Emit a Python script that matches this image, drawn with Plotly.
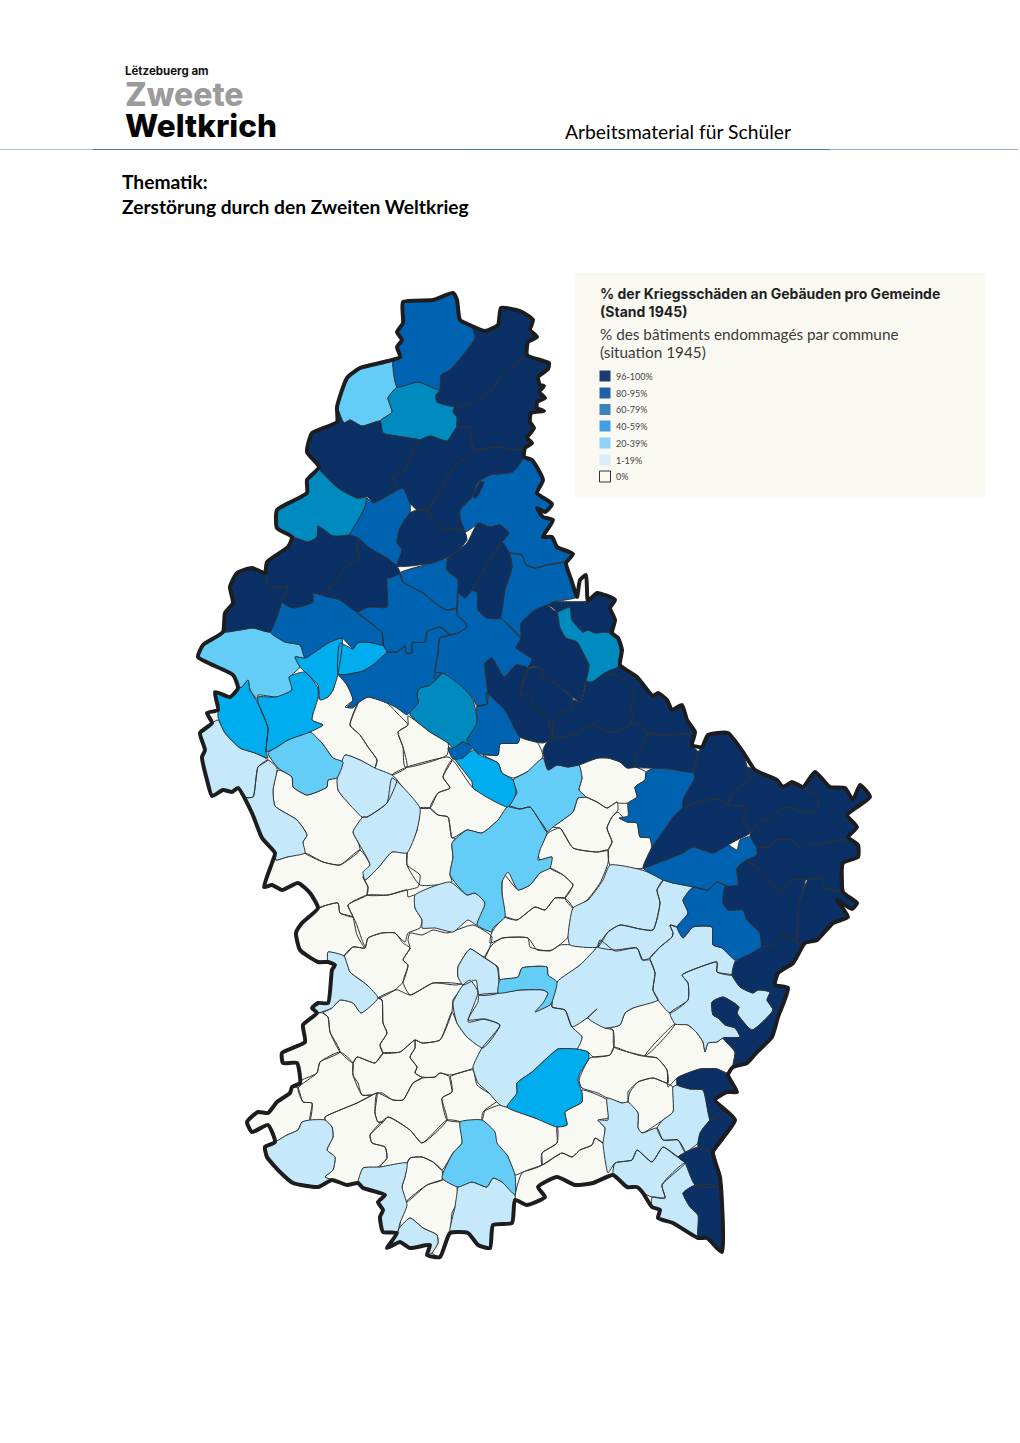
import plotly.graph_objects as go

# map geometry, in page pixels
# a 2-tuple is a vertex, a 4-tuple means "follow the national border from (x1,y1) to (x2,y2)"
BORDER = [
    (403,302),(433,300),(453,293),(457,300),(460,320),(472,326),(485,331),(498,325),(501,308),(520,311),(533,320),(530,330),
    (537,337),(528,342),(527,355),(540,360),(549,363),(548,369),(538,377),(540,385),(544,386),(539,392),(545,398),(537,402),
    (537,408),(544,411),(531,413),(530,422),(534,428),(527,438),(532,443),(525,448),(524,457),(532,460),(543,480),(537,493),
    (552,504),(545,512),(537,508),(543,517),(553,520),(543,537),(552,537),(557,547),(573,554),(566,563),(572,582),(577,597),
    (580,580),(586,575),(588,601),(597,593),(615,600),(610,608),(615,620),(612,633),(618,638),(622,650),(620,665),(637,677),
    (653,696),(658,693),(667,700),(672,710),(682,705),(687,720),(695,732),(692,745),(702,747),(708,735),(728,733),(743,752),
    (755,770),(777,780),(783,787),(792,782),(803,787),(815,772),(830,787),(845,788),(853,800),(860,785),(870,797),(847,815),
    (857,827),(848,837),(858,845),(858,857),(843,863),(843,892),(857,903),(852,909),(837,900),(848,917),(833,923),(817,940),
    (805,943),(793,963),(778,973),(775,985),(788,988),(778,1017),(772,1037),(757,1052),(747,1063),(733,1067),(728,1075),
    (737,1092),(727,1092),(715,1100),(735,1120),(713,1152),(720,1177),(722,1252),(707,1238),(698,1238),(673,1223),(658,1218),
    (660,1210),(652,1207),(643,1193),(637,1187),(627,1187),(613,1175),(593,1183),(575,1185),(557,1177),(538,1187),(545,1197),
    (527,1205),(515,1200),(512,1223),(493,1225),(490,1248),(478,1245),(468,1233),(450,1233),(440,1257),(427,1255),(430,1245),
    (410,1248),(400,1242),(387,1248),(397,1233),(383,1232),(380,1217),(383,1210),(378,1202),(385,1195),(363,1188),(358,1183),
    (347,1185),(332,1180),(318,1187),(293,1183),(280,1172),(267,1157),(265,1147),(275,1142),(268,1125),(252,1132),(247,1122),
    (258,1112),(268,1113),(277,1102),(290,1093),(292,1087),(300,1083),(297,1063),(283,1063),(282,1053),(305,1042),(303,1025),
    (317,1013),(312,1008),(318,1003),(328,1003),(332,970),(335,965),(328,962),(318,962),(300,950),(296,933),(302,923),(318,908),
    (310,893),(298,883),(282,890),(272,885),(264,887),(272,863),(275,853),(262,838),(252,813),(238,788),(232,792),(223,790),
    (212,796),(207,780),(202,757),(205,750),(200,733),(212,723),(207,713),(218,710),(215,692),(230,697),(238,688),(233,675),
    (198,657),(203,645),(223,632),(225,613),(233,603),(230,587),(237,573),(252,568),(265,573),(267,562),(288,547),(292,537),
    (277,528),(277,510),(307,493),(307,480),(319,467),(307,452),(312,433),(337,422),(337,407),(347,378),(360,368),(400,357),
    (397,347),(402,340),(397,332),(403,323),
]

DAMAGE_96_100 = [
    [(472,326,527,355),(510,368),(498,380),(492,390),(480,398),(465,406),(455,407),(437,402),(436,395),(440,390),(441,375),(450,370),(475,338)],
    [(527,355,525,448),(518,450),(498,447),(475,450),(470,440),(472,428),(457,427),(457,417),(453,412),(455,407),(465,406),(480,398),(492,390),(498,380),(510,368)],
    [(319,467,337,407),(344,423),(350,420),(362,426),(380,421),(383,433),(403,437),(420,440),(418,442),(410,458),(403,472),(393,475),(397,490),(392,493),(373,503),(368,497),(357,498),(338,488),(320,470)],
    [(418,442),(420,440),(430,436),(447,441),(457,427),(472,428),(470,440),(475,450),(468,457),(453,468),(438,495),(428,510),(417,510),(410,503),(403,488),(392,493),(397,490),(393,475),(403,472),(410,458)],
    [(475,450),(498,447),(518,450),(525,448,524,457),(513,472),(490,475),(477,483),(472,497),(460,510),(460,518),(465,532),(457,528),(445,530),(433,520),(428,510),(438,495),(453,468),(468,457)],
    [(473,497),(480,482),(484,482),(476,498)],
    [(410,513),(417,510),(428,510),(433,520),(445,530),(457,528),(465,532),(467,540),(458,550),(448,557),(432,563),(397,566),(402,550),(397,543),(400,528)],
    [(478,523),(490,527),(500,525),(509,533),(502,542),(490,560),(480,577),(472,590),(465,598),(458,592),(458,580),(447,570),(448,558),(467,543)],
    [(502,542),(510,555),(512,567),(505,590),(500,618),(487,618),(478,610),(477,592),(472,590),(480,577),(490,560)],
    [(553,602),(588,601,615,600),(610,608),(615,620),(612,633),(606,632),(595,633),(588,630),(583,632),(572,620),(570,607),(557,612),(548,605)],
    [(548,605),(535,610),(521,623),(521,638),(516,648),(522,652),(532,659),(528,668),(538,667),(545,672),(540,675),(555,683),(572,697),(581,702),(586,682),(589,665),(585,657),(577,642),(566,638),(560,628),(557,612)],
    [(581,702),(586,682),(592,682),(605,673),(617,675),(628,685),(635,695),(630,708),(633,718),(627,727),(617,732),(607,731),(593,724),(578,733),(562,737),(553,738),(553,723),(560,713),(572,708),(573,700)],
    [(620,665,695,732),(684,734),(662,735),(647,733),(635,722),(627,727),(633,718),(630,708),(635,695),(628,685),(617,675),(605,673),(618,667)],
    [(543,750),(550,738),(553,738),(562,737),(578,733),(593,724),(607,731),(617,732),(627,727),(635,722),(647,733),(643,745),(635,760),(635,767),(627,768),(620,762),(608,758),(598,758),(579,765),(568,767),(557,765),(548,770)],
    [(647,733),(662,735),(684,734),(695,732),(692,745),(698,752),(693,772),(670,769),(647,768),(635,767),(635,760),(643,745)],
    [(485,663),(492,658),(504,677),(516,665),(528,668),(520,695),(532,693),(533,707),(547,718),(553,737),(543,743),(520,737),(505,710),(488,693),(487,685)],
    [(528,668),(538,667),(545,672),(540,675),(555,683),(572,697),(573,700),(572,708),(560,713),(553,723),(553,738),(547,718),(533,707),(532,693),(520,695)],
    [(223,632,265,573),(270,587),(288,587),(282,602),(280,608),(270,632),(253,628),(240,630)],
    [(265,573),(267,562),(288,547),(292,537),(308,542),(317,537),(318,526),(333,536),(350,535),(358,538),(357,547),(360,557),(345,567),(337,580),(322,595),(313,593),(313,602),(293,608),(282,602),(288,587),(270,587)],
    [(358,538),(368,547),(387,558),(397,566),(400,573),(390,578),(387,578),(387,607),(368,607),(357,612),(340,600),(322,595),(337,580),(345,567),(360,557),(357,547)],
    [(683,808),(698,802),(718,799),(728,805),(747,807),(743,818),(750,833),(737,840),(728,845),(713,853),(693,847),(683,853),(660,862),(643,868),(652,847),(663,832),(675,815)],
    [(702,747,743,752),(747,767),(750,780),(733,792),(728,805),(718,799),(698,802),(683,808),(683,800),(695,777),(693,772),(698,752)],
    [(755,770,803,787),(818,798),(817,809),(807,813),(787,807),(770,818),(760,822),(750,833),(743,818),(747,807),(728,805),(733,792),(750,780),(747,767)],
    [(803,787,858,845),(855,841),(838,840),(818,845),(808,842),(800,848),(792,840),(775,840),(770,847),(757,847),(750,835),(760,822),(770,818),(787,807),(807,813),(817,809),(818,798)],
    [(747,860),(757,855),(757,847),(770,847),(775,840),(792,840),(800,848),(808,842),(818,845),(838,840),(855,841),(858,845,843,892),(823,887),(822,878),(808,880),(793,880),(780,892),(763,873)],
    [(725,887),(738,885),(737,868),(747,860),(763,873),(780,892),(793,880),(805,880),(799,903),(798,918),(797,942),(782,933),(772,945),(762,947),(760,933),(747,920),(743,910),(728,910),(723,903)],
    [(808,880),(822,878),(823,887),(843,892,805,943),(797,942),(798,918),(799,903)],
    [(805,943,733,1067),(735,1052),(723,1038),(740,1037),(735,1028),(725,1025),(718,1018),(713,1015),(712,1002),(723,997),(739,1007),(737,1013),(752,1030),(773,1010),(767,1000),(770,992),(758,990),(753,993),(740,987),(732,975),(735,962),(752,953),(762,947),(772,945),(782,933),(797,942)],
    [(677,1078),(700,1069),(717,1069),(728,1075,735,1120),(723,1113),(710,1120),(708,1112),(703,1090),(690,1089),(677,1085)],
    [(710,1120),(723,1113),(735,1120),(713,1152),(698,1147),(700,1133)],
    [(678,1157),(698,1147),(713,1152),(720,1177),(720,1187),(695,1185),(685,1163)],
    [(683,1193),(695,1185),(720,1187),(722,1252),(707,1238),(698,1238),(698,1215),(690,1207)],
]

DAMAGE_80_95 = [
    [(400,357,472,326),(475,338),(450,370),(441,375),(440,390),(418,382),(397,387),(393,362)],
    [(373,503),(392,493),(403,488),(410,502),(410,513),(400,528),(397,543),(402,550),(397,566),(387,558),(368,547),(358,538),(350,535),(360,517),(365,507),(367,498)],
    [(513,472),(524,457,573,554),(565,562),(547,565),(535,568),(526,565),(522,555),(508,553),(502,542),(508,533),(500,525),(490,527),(480,523),(465,532),(460,518),(460,510),(472,497),(477,483),(490,475)],
    [(508,553),(522,555),(526,565),(535,568),(547,565),(565,562),(566,563,577,597),(553,602),(548,605),(535,610),(521,623),(521,638),(503,620),(500,618),(505,590),(512,567),(510,555)],
    [(270,632),(280,608),(282,602),(293,608),(313,602),(313,593),(322,595),(340,600),(357,612),(367,620),(382,633),(383,645),(367,642),(357,643),(353,649),(342,638),(328,643),(315,652),(305,658),(300,645),(285,642)],
    [(387,578),(400,573),(403,582),(423,593),(435,603),(447,610),(457,608),(457,615),(465,622),(467,627),(458,633),(450,635),(440,627),(427,632),(425,642),(412,643),(412,653),(406,653),(405,646),(397,652),(388,652),(383,645),(382,633),(367,620),(357,613),(368,607),(387,607)],
    [(400,573),(432,563),(448,558),(447,570),(458,580),(458,592),(457,608),(447,610),(435,603),(423,593),(403,582)],
    [(457,600),(458,592),(465,598),(472,590),(477,592),(478,610),(487,618),(500,618),(503,620),(521,638),(516,648),(522,652),(532,659),(528,668),(516,665),(504,677),(492,658),(485,663),(485,670),(488,693),(487,704),(477,706),(473,698),(460,685),(442,673),(435,680),(435,672),(438,653),(440,638),(450,635),(458,633),(467,627),(465,622),(457,615)],
    [(343,675),(363,671),(373,665),(388,652),(397,652),(405,646),(406,653),(412,653),(412,643),(425,642),(427,632),(440,627),(450,635),(440,638),(438,653),(435,672),(442,673),(430,685),(420,688),(417,693),(418,703),(410,712),(407,715),(397,708),(387,703),(368,697),(358,703),(353,707),(347,707),(353,700),(347,685),(338,674)],
    [(477,706),(487,704),(486,693),(505,710),(520,737),(518,743),(500,744),(498,755),(477,753),(473,748),(463,758),(453,759),(448,748),(453,748),(463,742),(470,745),(467,740),(477,723)],
    [(646,772),(657,767),(670,769),(693,772),(695,777),(683,800),(683,810),(675,815),(663,832),(652,847),(650,838),(640,837),(637,823),(627,822),(619,818),(628,816),(628,803),(637,797),(635,787),(645,780)],
    [(643,868),(660,862),(683,853),(693,847),(713,853),(728,845),(737,850),(740,840),(753,836),(757,847),(757,855),(747,860),(737,868),(738,885),(728,887),(717,882),(708,890),(693,887),(673,883),(663,880)],
    [(693,887),(708,890),(717,882),(728,887),(723,903),(728,910),(743,910),(747,920),(760,933),(762,947),(747,958),(735,960),(722,948),(713,945),(712,927),(693,927),(683,938),(677,927),(688,913),(683,900)],
]

DAMAGE_60_79 = [
    [(397,387),(418,382),(440,390),(436,395),(437,402),(455,407),(453,412),(457,417),(457,427),(447,441),(430,436),(420,440),(403,437),(383,433),(380,421),(392,412),(388,398)],
    [(292,537,319,467),(320,470),(338,488),(357,498),(367,498),(365,507),(360,517),(350,535),(333,536),(318,526),(317,537),(308,542)],
    [(557,612),(570,607),(572,620),(583,632),(588,630),(595,633),(606,632),(617,638),(620,650),(618,667),(605,673),(592,682),(586,682),(589,665),(585,657),(577,642),(566,638),(560,628)],
    [(442,673),(460,683),(473,700),(477,723),(467,740),(470,745),(463,742),(453,748),(448,743),(430,732),(410,715),(410,712),(418,703),(417,693),(420,688),(430,685)],
]

DAMAGE_40_59 = [
    [(340,643),(353,649),(357,643),(367,642),(383,645),(387,652),(373,665),(363,671),(343,675),(338,674)],
    [(295,657),(305,658),(315,652),(328,643),(342,638),(338,674),(333,690),(328,697),(320,700),(318,685),(305,672),(300,667)],
    [(258,697),(276,697),(292,690),(289,677),(305,672),(318,688),(318,698),(312,720),(323,725),(310,732),(288,740),(277,747),(266,752),(268,728),(258,703)],
    [(218,710,238,688),(242,687),(248,680),(250,690),(258,703),(268,728),(266,752),(268,758),(255,753),(240,748),(225,733),(218,717)],
    [(455,759),(463,757),(475,749),(478,754),(498,763),(502,773),(513,780),(516,793),(508,807),(473,788),(472,782),(463,770)],
    [(507,1107),(517,1093),(517,1083),(532,1072),(547,1058),(558,1049),(577,1049),(588,1052),(589,1058),(580,1073),(578,1080),(582,1093),(582,1102),(565,1112),(567,1125),(557,1127),(535,1118)],
]

DAMAGE_20_39 = [
    [(337,407,400,357),(393,362),(397,387),(388,398),(392,412),(380,421),(362,426),(350,420),(344,423)],
    [(233,675,223,632),(240,630),(253,628),(270,632),(285,642),(300,645),(305,658),(295,657),(300,667),(290,677),(292,690),(277,697),(258,695),(258,700),(250,690),(248,680),(242,687),(238,688)],
    [(268,753),(277,747),(288,740),(310,732),(322,743),(333,758),(343,762),(337,778),(328,780),(327,787),(307,795),(293,787),(292,777),(278,768)],
    [(543,758),(548,770),(557,765),(568,767),(579,765),(582,778),(579,790),(586,797),(578,798),(573,812),(553,827),(547,832),(538,818),(530,807),(520,809),(508,806),(517,793),(513,780),(527,772)],
    [(508,806),(520,809),(530,807),(538,818),(547,832),(540,850),(538,860),(552,857),(550,868),(540,873),(530,885),(518,890),(508,872),(502,882),(502,893),(505,917),(493,928),(492,932),(477,925),(485,903),(475,893),(467,895),(450,875),(453,857),(452,843),(467,830),(482,833),(498,820)],
    [(498,993),(500,980),(518,977),(522,968),(547,967),(548,975),(557,982),(552,1002),(550,1005),(535,1012),(543,1003),(548,993),(543,990),(520,990)],
    [(460,1122),(482,1120),(495,1132),(497,1143),(507,1155),(515,1175),(515,1195),(502,1182),(493,1178),(487,1187),(472,1182),(458,1187),(442,1178),(453,1153),(462,1143)],
]

DAMAGE_1_19 = [
    [(238,788,212,723),(218,720),(225,733),(240,748),(255,753),(268,760),(258,767),(253,797),(243,797)],
    [(275,853,238,788),(243,797),(253,797),(258,767),(268,760),(277,768),(273,790),(275,806),(297,820),(307,835),(303,842),(305,853),(287,857),(276,860)],
    [(337,780),(345,755),(360,760),(375,768),(392,775),(397,780),(387,803),(367,817),(362,817),(343,797),(338,790)],
    [(353,832),(363,817),(367,817),(387,803),(392,778),(420,808),(417,830),(407,853),(392,852),(378,868),(365,880),(363,872),(370,865),(358,842)],
    [(415,895),(450,882),(467,895),(475,893),(485,903),(477,925),(468,920),(453,932),(435,928),(422,928),(422,920),(415,908)],
    [(610,865),(642,870),(663,880),(657,890),(660,903),(653,930),(640,929),(620,925),(608,932),(598,947),(570,945),(568,937),(573,908),(588,900),(603,880)],
    [(663,880),(673,883),(693,887),(683,900),(688,913),(677,927),(670,925),(673,933),(672,937),(660,947),(650,958),(643,960),(637,948),(615,950),(598,947),(608,932),(620,925),(640,929),(653,930),(660,903),(657,890)],
    [(650,958),(660,947),(672,937),(673,933),(670,925),(677,927),(683,938),(693,927),(712,927),(713,945),(722,948),(735,960),(732,975),(717,972),(717,962),(700,967),(682,975),(688,983),(688,1000),(670,1013),(658,1000),(653,990),(655,973)],
    [(682,975),(700,967),(717,962),(717,972),(732,975),(740,987),(753,993),(758,990),(770,992),(767,1000),(773,1010),(752,1030),(737,1013),(739,1007),(723,997),(712,1002),(713,1015),(718,1018),(725,1025),(735,1028),(740,1037),(723,1038),(717,1042),(708,1043),(705,1052),(703,1042),(697,1033),(688,1025),(675,1024),(670,1013),(688,1000),(688,983)],
    [(600,940),(615,951),(637,948),(642,960),(650,960),(655,973),(653,990),(658,1000),(633,1008),(625,1013),(620,1025),(605,1028),(588,1018),(597,1009),(587,1018),(572,1027),(565,1010),(552,1007),(557,982),(580,965),(597,947)],
    [(479,995),(498,993),(520,990),(543,990),(548,993),(545,1002),(552,1002),(552,1007),(565,1010),(572,1027),(582,1037),(577,1049),(558,1049),(547,1058),(532,1072),(517,1083),(517,1093),(507,1107),(500,1105),(488,1092),(478,1083),(473,1067),(482,1048),(500,1025),(483,1019),(468,1020),(478,1002)],
    [(458,967),(470,949),(483,957),(497,967),(498,993),(479,995),(476,980),(463,985),(458,977)],
    [(470,980),(478,992),(468,1022),(485,1019),(500,1025),(483,1048),(467,1037),(457,1023),(453,1003),(463,985)],
    [(317,1013,328,962),(328,952),(344,956),(350,972),(367,985),(378,998),(361,1013),(353,1003),(340,1000),(332,1008)],
    [(332,1180,275,1142),(287,1135),(298,1130),(302,1122),(310,1120),(325,1120),(332,1127),(333,1137),(327,1150),(335,1157),(333,1170),(325,1177)],
    [(458,1187),(472,1182),(487,1187),(493,1178),(502,1182),(515,1195),(515,1200,450,1233),(455,1207),(457,1193)],
    [(397,1233,358,1183),(363,1168),(380,1167),(407,1163),(405,1177),(402,1187),(407,1205),(400,1223)],
    [(400,1227),(410,1218),(423,1228),(437,1235),(438,1243),(432,1253),(427,1255),(430,1245),(410,1248),(400,1242),(387,1248),(397,1233)],
    [(608,1120),(607,1098),(622,1103),(628,1102),(638,1113),(638,1128),(642,1133),(657,1128),(663,1140),(678,1140),(685,1152),(678,1157),(663,1147),(652,1162),(637,1150),(632,1160),(615,1163),(608,1173),(603,1143),(605,1128),(598,1120)],
    [(615,1163),(632,1160),(637,1150),(652,1162),(663,1147),(678,1157),(685,1163),(662,1185),(665,1198),(652,1197),(643,1193),(637,1187),(627,1187),(613,1175)],
    [(662,1185),(685,1163),(695,1185),(683,1193),(690,1207),(698,1215),(698,1238,652,1207),(652,1197),(665,1198)],
    [(673,1087),(677,1085),(690,1089),(703,1090),(708,1112),(710,1120),(702,1130),(698,1143),(685,1152),(678,1140),(663,1140),(657,1128),(663,1120),(673,1112)],
]

DAMAGE_0 = [
    [(338,674),(347,685),(353,700),(345,707),(353,708),(358,703),(350,725),(360,735),(368,747),(377,760),(375,768),(360,760),(345,755),(343,762),(333,758),(322,743),(310,732),(323,725),(312,720),(318,698),(328,697),(333,690)],
    [(358,703),(368,697),(387,703),(397,713),(408,725),(398,732),(403,747),(407,767),(392,775),(377,772),(375,768),(377,760),(368,747),(360,735),(350,725)],
    [(408,716),(430,732),(448,743),(447,755),(405,767),(403,747),(398,732),(408,725)],
    [(407,767),(448,757),(452,760),(443,777),(450,788),(438,793),(430,808),(420,808),(397,780),(392,775)],
    [(483,755),(498,755),(500,744),(518,743),(520,737),(537,742),(543,755),(540,763),(527,772),(513,778),(502,773),(498,763)],
    [(579,765),(598,758),(608,758),(620,762),(627,768),(635,767),(646,772),(645,780),(635,787),(637,797),(628,803),(618,803),(617,802),(607,808),(597,802),(586,797),(579,790),(582,778)],
    [(503,873),(518,890),(530,885),(540,873),(550,868),(563,875),(573,885),(565,898),(555,898),(545,910),(535,907),(517,920),(505,917),(502,893),(502,882)],
    [(550,868),(552,857),(540,860),(538,853),(548,833),(560,828),(573,848),(597,852),(608,850),(608,863),(600,883),(587,900),(573,908),(565,898),(573,885),(563,875)],
    [(553,827),(573,812),(578,798),(586,797),(597,802),(607,808),(617,802),(618,810),(612,817),(607,828),(612,842),(608,850),(597,852),(573,848),(560,828)],
    [(618,812),(627,822),(637,823),(640,837),(650,838),(652,847),(643,868),(610,865),(608,850),(612,842),(607,828),(612,817)],
    [(492,932),(505,917),(517,920),(535,907),(545,910),(555,898),(565,898),(573,908),(568,937),(552,950),(537,950),(528,938),(503,938),(490,943)],
    [(485,957),(492,945),(502,938),(528,938),(530,947),(550,951),(560,945),(582,945),(597,947),(580,965),(557,982),(548,975),(547,967),(522,968),(518,977),(500,980),(498,967)],
    [(420,808),(430,808),(438,815),(448,817),(452,838),(455,838),(452,845),(453,857),(450,875),(452,882),(420,885),(407,865),(407,853),(417,830)],
    [(430,808),(438,793),(450,788),(443,777),(452,760),(473,788),(508,807),(498,820),(482,833),(467,830),(452,838),(448,817),(438,815)],
    [(278,770),(292,777),(293,787),(307,795),(327,787),(328,780),(337,778),(338,790),(343,797),(362,817),(353,832),(358,842),(360,850),(340,865),(323,862),(305,853),(303,842),(307,835),(297,820),(275,806),(273,790)],
    [(318,908,275,853),(276,860),(287,857),(305,853),(323,862),(340,865),(360,850),(370,865),(363,877),(368,887),(367,895),(348,905),(353,917),(340,913),(338,903),(327,905)],
    [(365,880),(378,868),(392,852),(407,853),(407,865),(420,875),(418,887),(407,890),(388,895),(367,895),(368,887),(363,877)],
    [(348,905),(367,895),(388,895),(407,890),(408,897),(415,895),(415,908),(422,920),(420,928),(408,933),(405,942),(400,938),(395,933),(382,933),(368,938),(365,948),(357,935),(353,917)],
    [(328,962,318,908),(327,905),(338,903),(340,913),(353,917),(362,940),(365,948),(353,947),(344,956),(328,952)],
    [(365,948),(368,938),(382,933),(395,933),(403,943),(410,948),(403,960),(408,965),(403,982),(395,990),(378,998),(367,985),(350,972),(344,956),(353,947)],
    [(398,990),(410,995),(433,983),(453,983),(463,985),(453,1000),(452,1012),(440,1040),(422,1043),(415,1040),(400,1052),(383,1053),(380,1045),(387,1033),(383,1023),(382,1000),(378,998),(395,990)],
    [(408,940),(410,948),(403,960),(408,965),(403,982),(410,995),(433,983),(457,985),(470,980),(458,977),(458,967),(470,949),(485,957),(492,937),(473,925),(447,933),(433,930),(422,935),(410,933)],
    [(572,1027),(588,1018),(605,1028),(613,1030),(614,1047),(610,1055),(593,1057),(588,1052),(577,1049),(582,1037)],
    [(610,1028),(620,1025),(625,1013),(633,1008),(658,1000),(670,1013),(675,1024),(645,1056),(628,1052),(614,1047),(613,1030)],
    [(645,1056),(675,1024),(688,1025),(697,1033),(703,1042),(705,1052),(708,1043),(717,1042),(723,1038),(735,1052),(733,1067),(728,1073),(717,1069),(700,1069),(677,1078),(668,1087),(667,1070),(657,1058)],
    [(579,1080),(590,1058),(610,1055),(614,1047),(628,1052),(645,1056),(657,1058),(667,1070),(668,1083),(653,1078),(638,1082),(628,1092),(628,1102),(622,1103),(607,1098),(598,1093),(582,1088)],
    [(630,1092),(638,1082),(653,1078),(668,1084),(673,1087),(673,1112),(663,1120),(642,1133),(638,1128),(638,1113),(628,1102)],
    [(582,1090),(607,1100),(608,1118),(598,1120),(605,1128),(603,1143),(595,1138),(592,1145),(580,1150),(572,1157),(562,1153),(542,1165),(542,1153),(557,1143),(557,1127),(567,1125),(565,1112),(582,1102)],
    [(483,1112),(500,1105),(507,1107),(535,1118),(557,1125),(557,1143),(542,1153),(542,1165),(523,1172),(515,1175),(507,1155),(493,1143),(492,1132),(482,1122)],
    [(613,1175,515,1200),(515,1195),(522,1173),(542,1165),(562,1153),(572,1157),(580,1150),(592,1145),(595,1138),(603,1143),(612,1157)],
    [(300,1083,317,1013),(323,1013),(328,1017),(330,1032),(340,1052),(320,1062),(317,1073),(302,1080)],
    [(323,1013),(332,1008),(340,1000),(353,1003),(361,1013),(378,998),(382,1000),(383,1023),(387,1033),(380,1045),(383,1053),(375,1063),(357,1057),(353,1063),(340,1052),(330,1032),(328,1017)],
    [(298,1088),(317,1073),(320,1062),(340,1052),(353,1063),(353,1075),(362,1095),(372,1095),(357,1103),(325,1117),(325,1120),(310,1120),(312,1103),(303,1102)],
    [(275,1142,292,1087),(298,1088),(303,1102),(312,1103),(310,1120),(302,1122),(298,1130),(287,1135)],
    [(325,1117),(357,1103),(372,1095),(377,1093),(375,1113),(378,1122),(383,1122),(370,1135),(372,1143),(385,1147),(387,1158),(378,1167),(363,1168),(358,1183,332,1180),(325,1177),(333,1170),(335,1157),(327,1150),(333,1137),(332,1127),(325,1120)],
    [(353,1063),(357,1057),(375,1063),(383,1053),(400,1052),(415,1040),(415,1048),(410,1057),(417,1067),(415,1073),(422,1078),(413,1083),(403,1100),(393,1100),(382,1093),(377,1093),(372,1095),(362,1095),(358,1083),(353,1075)],
    [(415,1040),(422,1043),(440,1040),(452,1012),(457,1023),(467,1037),(482,1048),(473,1068),(450,1075),(440,1073),(435,1077),(422,1077),(415,1073),(417,1067),(410,1057),(415,1048)],
    [(377,1093),(393,1100),(403,1100),(413,1083),(422,1078),(435,1077),(440,1073),(450,1077),(452,1092),(442,1098),(447,1120),(422,1143),(410,1130),(388,1117),(383,1122),(378,1122),(375,1113)],
    [(388,1117),(410,1130),(422,1143),(447,1120),(460,1122),(462,1143),(453,1153),(442,1170),(433,1162),(422,1157),(410,1158),(407,1163),(380,1167),(387,1158),(385,1147),(372,1143),(370,1135)],
    [(450,1077),(473,1070),(477,1085),(498,1100),(485,1110),(482,1120),(460,1122),(447,1120),(442,1098),(452,1092)],
    [(407,1163),(410,1158),(422,1157),(433,1162),(442,1170),(442,1180),(427,1185),(405,1203),(402,1187),(405,1177)],
    [(405,1203),(427,1185),(442,1180),(457,1180),(457,1187),(458,1200),(452,1213),(450,1233),(440,1257),(432,1253),(438,1243),(437,1235),(423,1228),(410,1218),(400,1227)],
]

LEGEND_LABELS = ["96-100%", "80-95%", "60-79%", "40-59%", "20-39%", "1-19%", "0%"]
LEGEND_COLORS = ["#1E3A70", "#2260A8", "#3A84BA", "#42A0E2", "#92D1F5", "#D8EDFB", "#F9F9F2"]
LEGEND_Y = [376, 393, 409.5, 426, 443, 460, 476.5]

CLASS_COLORS = ["#F8F9F3", "#C5E9FB", "#63CDF7", "#00ADEF", "#008BC0", "#0063B1", "#0A3066"]
CLASSES = [DAMAGE_0, DAMAGE_1_19, DAMAGE_20_39, DAMAGE_40_59, DAMAGE_60_79, DAMAGE_80_95, DAMAGE_96_100]

RULE_COLORS = ["#A9C0E0", "#5B7093", "#4A74B0", "#8FB0DE"]
RULE_X = [0, 93, 465, 830, 1018]


def nearest(x, y):
    return min(range(len(BORDER)), key=lambda i: (BORDER[i][0] - x) ** 2 + (BORDER[i][1] - y) ** 2)


def expand(poly):
    pts = []
    for p in poly:
        if len(p) == 2:
            pts.append(p)
        else:
            i, j = nearest(p[0], p[1]), nearest(p[2], p[3])
            while True:
                pts.append(BORDER[i])
                if i == j:
                    break
                i = (i + 1) % len(BORDER)
    return pts


fig = go.Figure()

# country base
fig.add_trace(go.Scatter(x=[p[0] for p in BORDER], y=[p[1] for p in BORDER], mode="lines", fill="toself",
                         fillcolor="#F8F9F3", line=dict(width=0), hoverinfo="skip", showlegend=False))

for polys, color in zip(CLASSES, CLASS_COLORS):
    xs, ys = [], []
    for poly in polys:
        pts = expand(poly)
        pts.append(pts[0])
        xs += [p[0] for p in pts] + [None]
        ys += [p[1] for p in pts] + [None]
    fig.add_trace(go.Scatter(x=xs, y=ys, mode="lines", fill="toself", fillcolor=color,
                             line=dict(color="#2E3236", width=1, shape="spline", smoothing=0.5),
                             hoverinfo="skip", showlegend=False))

# national border on top
closed = BORDER + [BORDER[0]]
fig.add_trace(go.Scatter(x=[p[0] for p in closed], y=[p[1] for p in closed], mode="lines",
                         line=dict(color="#1D1D1F", width=4, shape="spline", smoothing=0.5),
                         hoverinfo="skip", showlegend=False))

# legend swatches
fig.add_trace(go.Scatter(x=[605] * len(LEGEND_Y), y=LEGEND_Y, mode="markers",
                         marker=dict(symbol="square", size=11, color=LEGEND_COLORS,
                                     line=dict(color=["rgba(0,0,0,0)"] * 6 + ["#333333"], width=1)),
                         hoverinfo="skip", showlegend=False))

# legend panel and the rule under the page header
shapes = [dict(type="rect", xref="x", yref="y", x0=575, x1=985, y0=273, y1=497, fillcolor="#F9F9F2",
               line=dict(width=0), layer="below")]
for k, color in enumerate(RULE_COLORS):
    shapes.append(dict(type="line", xref="x", yref="y", x0=RULE_X[k], x1=RULE_X[k + 1], y0=149.5, y1=149.5,
                       line=dict(color=color, width=1)))


def label(x, y, text, size, family="Lato", color="#000000", weight="normal"):
    # annotations carry 2px of padding
    return dict(x=x - 2, y=y - 1, xref="x", yref="y", text=text, showarrow=False, xanchor="left", yanchor="middle",
                font=dict(family=family, size=size, color=color, weight=weight))


annotations = [
    label(125, 72, "Lëtzebuerg am", 11.5, "Inter", "#111111", 700),
    label(125, 95, "Zweete", 32, "Inter", "#9B9B9B", 800),
    label(125, 126, "Weltkrich", 31.5, "Inter", "#050505", 800),
    label(565, 132, "Arbeitsmaterial für Schüler", 19.3),
    label(122, 182, "Thematik:", 19.2, weight=700),
    label(122, 207, "Zerstörung durch den Zweiten Weltkrieg", 19.2, weight=700),
    label(600, 294, "% der Kriegsschäden an Gebäuden pro Gemeinde", 14, "Inter", "#1F1F1F", 700),
    label(600, 312, "(Stand 1945)", 14, "Inter", "#1F1F1F", 700),
    label(600, 335, "% des bâtiments endommagés par commune", 15.3, "Lato", "#3A3A3A"),
    label(600, 353, "(situation 1945)", 15.3, "Lato", "#3A3A3A"),
]
for name, yy in zip(LEGEND_LABELS, LEGEND_Y):
    annotations.append(label(616, yy + 1, name, 9, "Lato", "#444444"))

fig.update_xaxes(range=[0, 1020], visible=False, fixedrange=True)
fig.update_yaxes(range=[1443, 0], visible=False, fixedrange=True)
fig.update_layout(width=1020, height=1443, margin=dict(l=0, r=0, t=0, b=0), autosize=False,
                  paper_bgcolor="white", plot_bgcolor="white", shapes=shapes, annotations=annotations)

fig.write_html("out.html", config=dict(displayModeBar=False),
               post_script="document.body.style.margin='0';document.body.style.overflow='hidden';")
